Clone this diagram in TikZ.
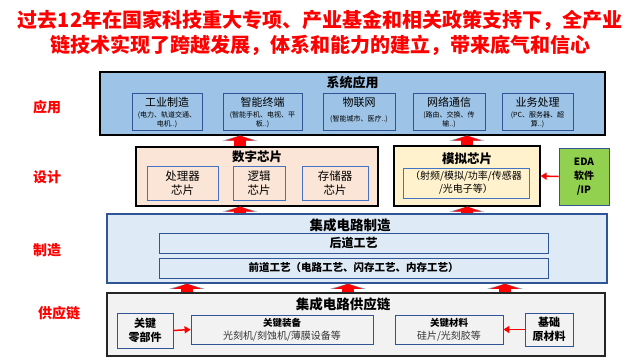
\documentclass[tikz,border=0pt]{standalone}
\usepackage{fontspec}
\setmainfont{Noto Sans CJK SC}
\usetikzlibrary{arrows.meta}

\definecolor{sysblue}{HTML}{9DC3E6}
\definecolor{darkblue}{HTML}{2F5597}
\definecolor{midblue}{HTML}{4472C4}
\definecolor{digfill}{HTML}{FBE5D6}
\definecolor{anafill}{HTML}{FFF2CC}
\definecolor{edagreen}{HTML}{92D050}
\definecolor{mfgfill}{HTML}{DEEBF7}
\definecolor{supfill}{HTML}{F2F2F2}
\definecolor{titlered}{HTML}{FF0000}
\definecolor{arrowgrey}{HTML}{8497B0}

\tikzset{
  layerbox/.style={draw=black, line width=1.2pt, rectangle, inner sep=0pt},
  innerbox/.style={draw=darkblue, line width=0.8pt, rectangle, inner sep=0pt, align=center},
  headtext/.style={font=\bfseries\fontsize{13}{15}\selectfont, inner sep=0pt},
  apptitle/.style={font=\fontsize{11}{13}\selectfont, inner sep=0pt},
  appsub/.style={font=\fontsize{7}{8.5}\selectfont, align=center, inner sep=0pt},
  sidelabel/.style={text=titlered, font=\bfseries\fontsize{14}{16}\selectfont},
  titletext/.style={text=titlered, font=\bfseries\fontsize{20}{24}\selectfont},
  fatup/.style={draw=red, line width=12pt, -{Triangle[width=28pt,length=5pt]},
    preaction={draw=arrowgrey, line width=12pt, -{Triangle[width=35pt,length=5pt]}}},
  thinred/.style={draw=red, line width=1.5pt, -{Triangle[width=7pt,length=6pt]}}
}

\begin{document}
\begin{tikzpicture}[x=1pt,y=-1pt]
  \useasboundingbox (0,0) rectangle (640,360);

  % Title
  \node[titletext] (title1) at (320,20) {过去12年在国家科技重大专项、产业基金和相关政策支持下，全产业};
  \node[titletext] (title2) at (320,45) {链技术实现了跨越发展，体系和能力的建立，带来底气和信心};

  % Layer labels
  \node[sidelabel] (lapp) at (47,107) {应用};
  \node[sidelabel] (ldes) at (47,177) {设计};
  \node[sidelabel] (lmfg) at (47,250) {制造};
  \node[sidelabel] (lsup) at (59,313) {供应链};

  % System applications
  \node[layerbox, fill=sysblue, minimum width=505pt, minimum height=63pt] (sys) at (352.5,103.5) {};
  \node[headtext] (sys-t) at (352.5,83) {系统应用};
  \foreach \nm/\cx/\w/\ttl/\sub in {ind/167/70/工业制造/{(电力、轨道交通、\\电机..)},
      term/262.5/79/智能终端/{(智能手机、电视、平\\板..)},
      iot/359/72/物联网/{(智能城市、医疗..)},
      net/449/72/网络通信/{(路由、交换、传\\输..)},
      biz/537.5/71/业务处理/{(PC、服务器、超\\算..)}}{
    \node[innerbox, fill=sysblue, minimum width=\w pt, minimum height=37pt] (\nm) at (\cx,111.5) {};
    \node[apptitle] (\nm-t) at (\cx,102) {\ttl};
    \node[appsub] (\nm-s) at (\cx,119.5) {\sub};
  }

  % Digital chips
  \node[layerbox, fill=digfill, minimum width=242pt, minimum height=59pt] (dig) at (257,176.5) {};
  \node[headtext, font=\bfseries\fontsize{12.5}{15}\selectfont] (dig-t) at (257,157) {数字芯片};
  \node[innerbox, draw=midblue, fill=digfill, minimum width=71pt, minimum height=34pt,
    font=\fontsize{11.5}{14}\selectfont] (proc) at (182.5,183) {处理器\\芯片};
  \node[innerbox, draw=midblue, fill=digfill, minimum width=52pt, minimum height=34pt,
    font=\fontsize{11.5}{14}\selectfont] (logic) at (259,183) {逻辑\\芯片};
  \node[innerbox, draw=midblue, fill=digfill, minimum width=66pt, minimum height=34pt,
    font=\fontsize{11.5}{14}\selectfont] (mem) at (335,183) {存储器\\芯片};

  % Analog chips
  \node[layerbox, fill=anafill, minimum width=146pt, minimum height=60pt] (ana) at (467,176) {};
  \node[headtext, font=\bfseries\fontsize{12.5}{15}\selectfont] (ana-t) at (467,159) {模拟芯片};
  \node[innerbox, draw=midblue, fill=anafill, minimum width=126pt, minimum height=30pt,
    font=\fontsize{10}{13}\selectfont] (ana-i) at (466,183) {（射频/模拟/功率/传感器\\/光电子等）};

  % EDA
  \node[innerbox, fill=edagreen, minimum width=50pt, minimum height=57pt,
    font=\bfseries\fontsize{10}{14}\selectfont] (eda) at (584,176.5) {EDA\\软件\\/IP};
  \draw[thinred] (eda.west) -- (ana.east);

  % Manufacturing
  \node[layerbox, draw=darkblue, line width=1.5pt, fill=mfgfill, minimum width=500pt, minimum height=69pt] (mfg) at (357,248.5) {};
  \node[headtext, font=\bfseries\fontsize{13.5}{16}\selectfont] (mfg-t) at (350,225) {集成电路制造};
  \node[innerbox, fill=mfgfill, minimum width=389pt, minimum height=20pt,
    font=\bfseries\fontsize{12}{14}\selectfont] (back) at (353.5,243) {后道工艺};
  \node[innerbox, fill=mfgfill, minimum width=389pt, minimum height=20pt,
    font=\bfseries\fontsize{10.5}{13}\selectfont] (front) at (353.5,268) {前道工艺（电路工艺、闪存工艺、内存工艺）};

  % Supply chain
  \node[layerbox, draw=black!85, fill=supfill, minimum width=498pt, minimum height=63pt] (sup) at (356,324.5) {};
  \node[headtext, font=\bfseries\fontsize{13.5}{16}\selectfont] (sup-t) at (343,304) {集成电路供应链};
  \node[innerbox, fill=supfill, minimum width=56pt, minimum height=35pt,
    font=\bfseries\fontsize{11}{14}\selectfont] (part) at (145,330.5) {关键\\零部件};
  \node[innerbox, fill=supfill, minimum width=182pt, minimum height=29pt] (equip) at (282,329.5) {};
  \node[inner sep=0pt, font=\bfseries\fontsize{9.5}{11}\selectfont] (equip-t) at (282,323) {关键装备};
  \node[inner sep=0pt, text=black!80, font=\fontsize{10}{12}\selectfont] (equip-s) at (282,336) {光刻机/刻蚀机/薄膜设备等};
  \node[innerbox, fill=supfill, minimum width=108pt, minimum height=29pt] (mat) at (449,329.5) {};
  \node[inner sep=0pt, font=\bfseries\fontsize{9.5}{11}\selectfont] (mat-t) at (449,323) {关键材料};
  \node[inner sep=0pt, text=black!80, font=\fontsize{10}{12}\selectfont] (mat-s) at (449,336) {硅片/光刻胶等};
  \node[innerbox, fill=supfill, minimum width=48pt, minimum height=33pt,
    font=\bfseries\fontsize{11}{14}\selectfont] (raw) at (549,329.5) {基础\\原材料};
  \draw[thinred] (part.east) -- (equip.west);
  \draw[thinred] (raw.west) -- (mat.east);

  % Upward block arrows
  \coordinate (a1) at (240,0);
  \coordinate (a2) at (467,0);
  \coordinate (a3) at (187,0);
  \coordinate (a4) at (348,0);
  \coordinate (a5) at (505,0);
  \draw[fatup] (dig.north -| a1) -- (sys.south -| a1);
  \draw[fatup] (ana.north -| a2) -- (sys.south -| a2);
  \draw[fatup] (mfg.north -| a1) -- (dig.south -| a1);
  \draw[fatup] (mfg.north -| a2) -- (ana.south -| a2);
  \draw[fatup] (sup.north -| a3) -- (mfg.south -| a3);
  \draw[fatup] (sup.north -| a4) -- (mfg.south -| a4);
  \draw[fatup] (sup.north -| a5) -- (mfg.south -| a5);
\end{tikzpicture}
\end{document}
